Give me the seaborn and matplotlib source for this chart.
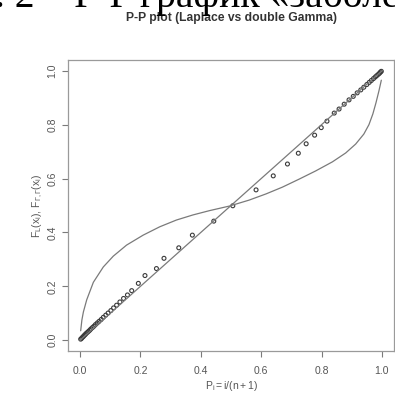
import matplotlib
matplotlib.use("Agg")
import matplotlib.pyplot as plt
import seaborn as sns
import pandas as pd

# ---- data ----
pp_x = [0.002, 0.005, 0.008, 0.011, 0.014, 0.017, 0.020, 0.024, 0.028, 0.032,
        0.036, 0.041, 0.046, 0.051, 0.057, 0.063, 0.070, 0.077, 0.085, 0.093,
        0.102, 0.111, 0.121, 0.132, 0.144, 0.157, 0.171, 0.193, 0.215, 0.253,
        0.278, 0.327, 0.372, 0.443, 0.506, 0.583, 0.640, 0.687, 0.723, 0.749,
        0.777, 0.799, 0.818, 0.842, 0.858, 0.875, 0.891, 0.905, 0.918, 0.930,
        0.940, 0.950, 0.958, 0.965, 0.972, 0.978, 0.983, 0.988, 0.992, 0.995,
        0.998]
pp_y = [0.004, 0.007, 0.011, 0.014, 0.018, 0.021, 0.025, 0.029, 0.033, 0.037,
        0.042, 0.047, 0.052, 0.058, 0.064, 0.070, 0.077, 0.085, 0.093, 0.101,
        0.110, 0.120, 0.130, 0.142, 0.155, 0.168, 0.184, 0.211, 0.240, 0.266,
        0.304, 0.343, 0.390, 0.442, 0.499, 0.558, 0.610, 0.654, 0.694, 0.729,
        0.761, 0.789, 0.813, 0.843, 0.858, 0.876, 0.892, 0.905, 0.918, 0.929,
        0.939, 0.949, 0.957, 0.964, 0.971, 0.977, 0.982, 0.987, 0.991, 0.995,
        0.998]

curve_x = [0.002, 0.006, 0.011, 0.022, 0.044, 0.077, 0.110, 0.154, 0.209, 0.264,
           0.319, 0.374, 0.429, 0.495, 0.560, 0.616, 0.670, 0.726, 0.780, 0.836,
           0.880, 0.913, 0.940, 0.957, 0.970, 0.980, 0.990, 0.998]
curve_y = [0.035, 0.075, 0.105, 0.150, 0.215, 0.272, 0.312, 0.353, 0.390, 0.421,
           0.446, 0.465, 0.481, 0.498, 0.520, 0.543, 0.568, 0.598, 0.628, 0.662,
           0.695, 0.728, 0.765, 0.800, 0.840, 0.880, 0.925, 0.965]

diag_x = [0.0, 1.0]
diag_y = [0.0, 1.0]

x_ticks = [0.0, 0.2, 0.4, 0.6, 0.8, 1.0]
tick_labels = ["0.0", "0.2", "0.4", "0.6", "0.8", "1.0"]

title = "P-P plot (Laplace vs double Gamma)"
x_label = r"$\mathrm{P_i = i/(n+1)}$"
y_label = r"$\mathrm{F_L(x_i),\,F_{\Gamma,\Gamma}(x_i)}$"
caption = "Рис. 2 – P-P график «заболеваемости»"

# ---- drawing ----
sns.set_style("white")
plt.rcParams["font.family"] = ["Liberation Sans", "DejaVu Sans"]
plt.rcParams["mathtext.fontset"] = "custom"
plt.rcParams["mathtext.rm"] = "Liberation Sans"
plt.rcParams["mathtext.it"] = "Liberation Sans"

W, H = 395, 403
fig = plt.figure(figsize=(W / 100, H / 100), dpi=100)
ax = fig.add_axes([68 / W, 1 - 351 / H, (394 - 68) / W, (351 - 60) / H])

gray = "#7a7a7a"
txt = "#555555"

sns.lineplot(x=diag_x, y=diag_y, ax=ax, color=gray, linewidth=0.9)
sns.lineplot(x=curve_x, y=curve_y, ax=ax, color=gray, linewidth=0.9, sort=False)
df = pd.DataFrame({"x": pp_x, "y": pp_y})
sns.scatterplot(data=df, x="x", y="y", ax=ax, marker="o", s=8,
                facecolor="none", edgecolor="#3a3a3a", linewidth=0.8)

ax.set_xlim(-0.04, 1.04)
ax.set_ylim(-0.04, 1.04)
ax.set_xticks(x_ticks)
ax.set_xticklabels(tick_labels)
ax.set_yticks(x_ticks)
ax.set_yticklabels(tick_labels, rotation=90, va="center")
ax.tick_params(axis="both", direction="out", length=4, width=0.8,
               color=gray, labelcolor=txt, labelsize=7.5, bottom=True, left=True)
ax.tick_params(axis="x", pad=7)
ax.tick_params(axis="y", pad=3.5)
for s in ax.spines.values():
    s.set_color("#9a9a9a")
    s.set_linewidth(0.9)
ax.set_xlabel(x_label, color=txt, fontsize=7.5, labelpad=2)
ax.set_ylabel(y_label, color=txt, fontsize=7.5, labelpad=1.5)

fig.text(231 / W, 1 - 17.5 / H, title, ha="center", va="center",
         fontsize=8.7, fontweight="bold", color="#333333")

fig.text(-66 / W, 1 - 7 / H, caption, ha="left", va="baseline",
         fontsize=28.5, color="black", family=["Liberation Serif", "DejaVu Serif"])

fig.savefig("out.png", dpi=100)
